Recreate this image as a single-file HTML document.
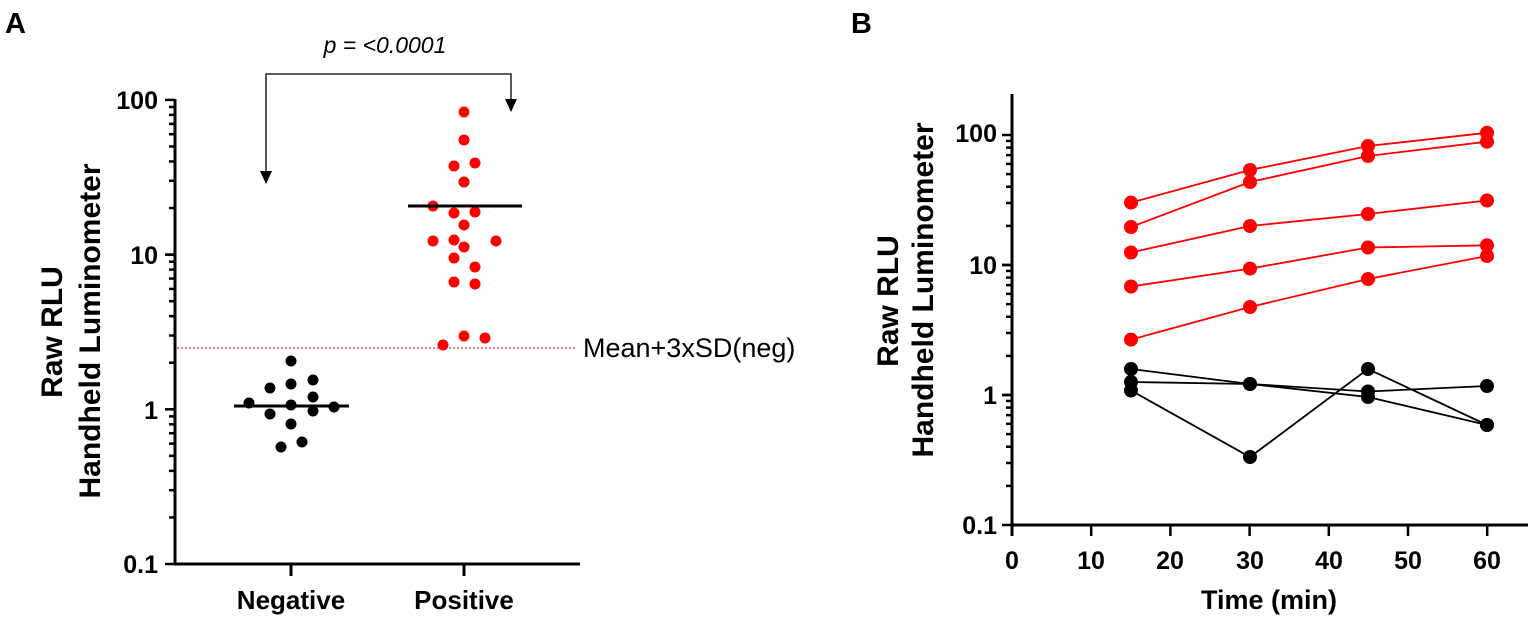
<!DOCTYPE html>
<html><head><meta charset="utf-8"><style>body{margin:0;background:#fff}svg{display:block}</style></head><body>
<svg width="1535" height="621" viewBox="0 0 1535 621" xmlns="http://www.w3.org/2000/svg" font-family="Liberation Sans, Arial, sans-serif">
<text x="5" y="33" font-size="29" font-weight="bold">A</text>
<text x="851" y="33" font-size="29" font-weight="bold">B</text>
<!-- Panel A axes -->
<g stroke="#000" stroke-width="3" fill="none">
<line x1="175" y1="99" x2="175" y2="565"/>
<line x1="174" y1="564" x2="580" y2="564"/>
<line x1="291" y1="564" x2="291" y2="576"/>
<line x1="464" y1="564" x2="464" y2="576"/>
</g>
<g id="ta" stroke="#000" stroke-width="2.5"></g>
<g font-size="25" font-weight="bold" text-anchor="end">
<text x="158" y="109">100</text><text x="158" y="264">10</text><text x="158" y="419">1</text><text x="158" y="573">0.1</text>
</g>
<g font-size="26" font-weight="bold" text-anchor="middle">
<text x="291" y="609">Negative</text><text x="464" y="609">Positive</text>
</g>
<g font-size="30" font-weight="bold" text-anchor="middle">
<text transform="translate(62,332) rotate(-90)">Raw RLU</text>
<text transform="translate(100,331) rotate(-90)">Handheld Luminometer</text>
</g>
<line x1="177" y1="348" x2="577" y2="348" stroke="#c00" stroke-width="1" stroke-dasharray="2,2"/>
<text x="583" y="357" font-size="27">Mean+3xSD(neg)</text>
<path d="M266 183 V74 H511 V111" stroke="#000" stroke-width="1.3" fill="none"/>
<path d="M260 171 L272 171 L266 184Z M505 99 L517 99 L511 112Z" fill="#000"/>
<text x="385" y="53" font-size="23" font-style="italic" text-anchor="middle">p = &lt;0.0001</text>
<g fill="#000">
<circle cx="291" cy="361" r="5.5"/><circle cx="270" cy="388" r="5.5"/><circle cx="291" cy="384" r="5.5"/><circle cx="313" cy="380" r="5.5"/><circle cx="249" cy="403" r="5.5"/><circle cx="291" cy="405" r="5.5"/><circle cx="313" cy="397" r="5.5"/><circle cx="334" cy="407" r="5.5"/><circle cx="270" cy="414" r="5.5"/><circle cx="313" cy="411" r="5.5"/><circle cx="291" cy="424" r="5.5"/><circle cx="281" cy="447" r="5.5"/><circle cx="302" cy="442" r="5.5"/>
</g>
<line x1="234" y1="406" x2="349" y2="406" stroke="#000" stroke-width="3"/>
<g fill="#f00">
<circle cx="464" cy="112" r="5.5"/><circle cx="464" cy="140" r="5.5"/><circle cx="454" cy="166" r="5.5"/><circle cx="475" cy="163" r="5.5"/><circle cx="464" cy="182" r="5.5"/><circle cx="433" cy="206" r="5.5"/><circle cx="454" cy="213" r="5.5"/><circle cx="475" cy="212" r="5.5"/><circle cx="464" cy="225" r="5.5"/><circle cx="433" cy="241" r="5.5"/><circle cx="454" cy="240" r="5.5"/><circle cx="496" cy="241" r="5.5"/><circle cx="464" cy="247" r="5.5"/><circle cx="454" cy="258" r="5.5"/><circle cx="475" cy="267" r="5.5"/><circle cx="454" cy="282" r="5.5"/><circle cx="475" cy="284" r="5.5"/><circle cx="443" cy="345" r="5.5"/><circle cx="464" cy="336" r="5.5"/><circle cx="485" cy="338" r="5.5"/>
</g>
<line x1="408" y1="206" x2="522" y2="206" stroke="#000" stroke-width="3"/>
<!-- Panel B -->
<g stroke="#000" stroke-width="3" fill="none">
<line x1="1012" y1="94" x2="1012" y2="536"/>
<line x1="1011" y1="525" x2="1528" y2="525"/>
</g>
<g id="tb" stroke="#000" stroke-width="2.5"></g>
<g font-size="25" font-weight="bold" text-anchor="end">
<text x="997" y="142">100</text><text x="997" y="274">10</text><text x="997" y="404">1</text><text x="997" y="534">0.1</text>
</g>
<g font-size="25" font-weight="bold" text-anchor="middle">
<text x="1012" y="569">0</text><text x="1091" y="569">10</text><text x="1170" y="569">20</text><text x="1250" y="569">30</text><text x="1329" y="569">40</text><text x="1408" y="569">50</text><text x="1487" y="569">60</text>
<text x="1269" y="609" font-size="27">Time (min)</text>
</g>
<g font-size="30" font-weight="bold" text-anchor="middle">
<text transform="translate(898,301) rotate(-90)">Raw RLU</text>
<text transform="translate(933,290) rotate(-90)">Handheld Luminometer</text>
</g>
<g id="series"></g>
</svg>
<script>
var NS="http://www.w3.org/2000/svg";
function el(p,t,a){var e=document.createElementNS(NS,t);for(var k in a)e.setAttribute(k,a[k]);p.appendChild(e);return e;}
var ta=document.getElementById("ta"),tb=document.getElementById("tb");
for(var d=0;d<3;d++)for(var m=1;m<=10;m++){
 var v=Math.log10(m)+d;
 var ya=564-154.7*v, yb=525-130*v;
 var L=(m==1||m==10)?10:6;
 el(ta,"line",{x1:175-L,y1:ya,x2:175,y2:ya});
 el(tb,"line",{x1:1012-L,y1:yb,x2:1012,y2:yb});
}
for(var i=0;i<=6;i++){var x=1012+i*79.2;el(tb,"line",{x1:x,y1:525,x2:x,y2:536});}
var xs=[1131,1250,1368,1487];
var red=[[202.6,170,146,132.8],[227,182,156,141.7],[252.5,226,214,200.5],[286.5,268.6,247.5,245.3],[339.6,307,279,256]];
var blk=[[369,384,397,425],[382,384,391.5,386],[390.5,457,369,425]];
var s=document.getElementById("series");
function draw(arr,c){arr.forEach(function(r){
 el(s,"polyline",{points:r.map(function(y,i){return xs[i]+","+y}).join(" "),fill:"none",stroke:c,"stroke-width":1.8});
 r.forEach(function(y,i){el(s,"circle",{cx:xs[i],cy:y,r:7,fill:c});});
});}
draw(blk,"#000");draw(red,"#f00");
</script>
</body></html>
